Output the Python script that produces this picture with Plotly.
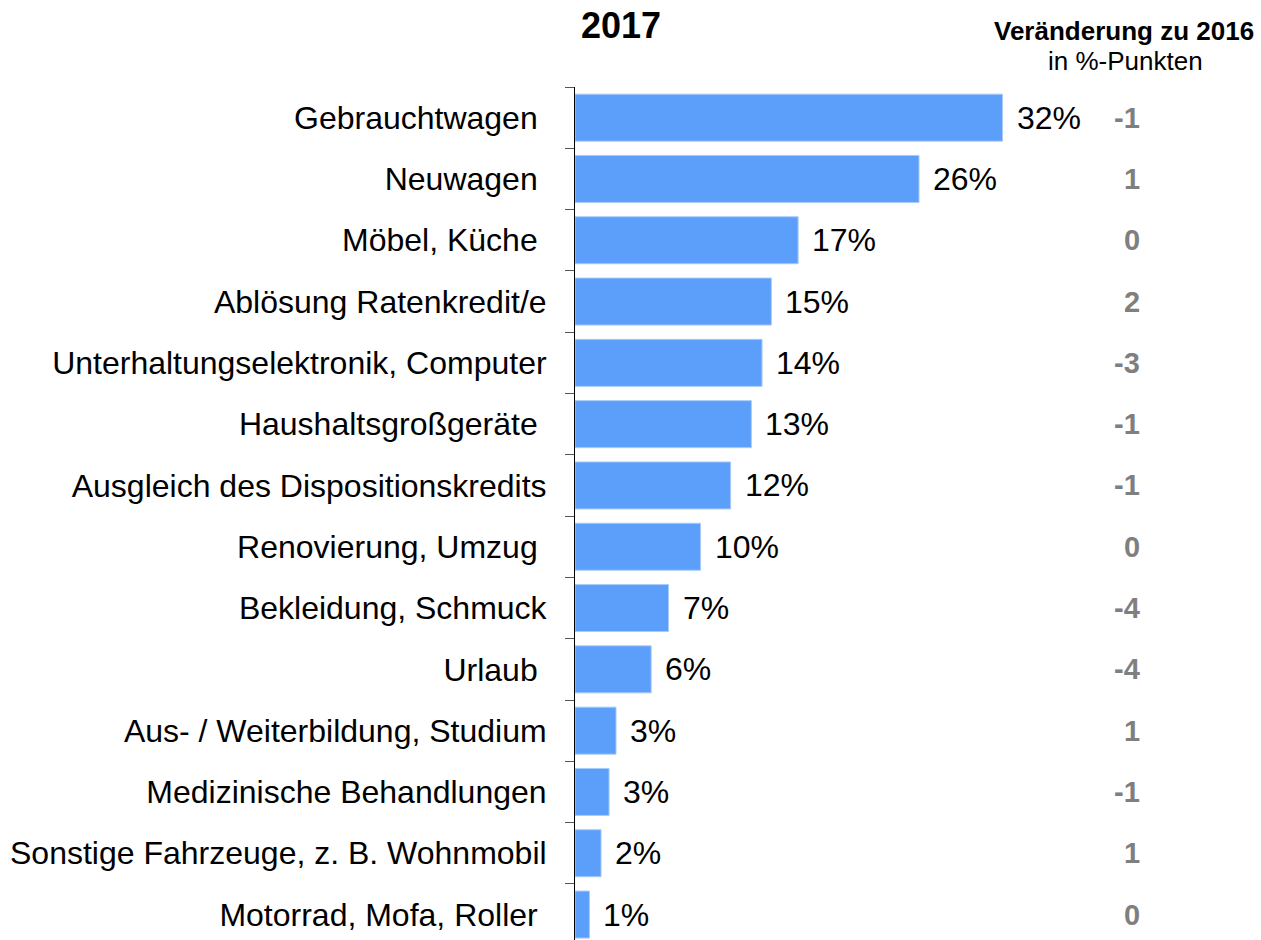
import plotly.graph_objects as go

categories = ["Gebrauchtwagen\u00a0", "Neuwagen\u00a0", "Möbel, Küche\u00a0", "Ablösung Ratenkredit/e",
              "Unterhaltungselektronik, Computer", "Haushaltsgroßgeräte\u00a0",
              "Ausgleich des Dispositionskredits", "Renovierung, Umzug\u00a0", "Bekleidung, Schmuck",
              "Urlaub\u00a0", "Aus- / Weiterbildung, Studium", "Medizinische Behandlungen",
              "Sonstige Fahrzeuge, z. B. Wohnmobil", "Motorrad, Mofa, Roller\u00a0"]
values = [32.0, 25.75, 16.7, 14.7, 14.0, 13.2, 11.65, 9.4, 7.0, 5.7, 3.07, 2.55, 1.95, 1.08]
value_labels = ["32%", "26%", "17%", "15%", "14%", "13%", "12%", "10%", "7%", "6%", "3%", "3%", "2%", "1%"]
changes = ["-1", "1", "0", "2", "-3", "-1", "-1", "0", "-4", "-4", "1", "-1", "1", "0"]

FONT = "Liberation Sans, Arial, sans-serif"
W, H = 1261, 940
ML, MT = 575, 87
PW, PH = W - ML, H - MT
ROW = 61.3
PXPERPCT = 13.36

fig = go.Figure(go.Bar(
    x=values, y=categories, orientation="h", width=0.767,
    marker=dict(color="#5B9FFA", line=dict(color="#A9CBFB", width=1)),
    hoverinfo="skip",
))

annotations = []
for c, v, lab, ch in zip(categories, values, value_labels, changes):
    annotations.append(dict(x=v, y=c, xref="x", yref="y", text=lab, showarrow=False,
                            xanchor="left", xshift=12, font=dict(family=FONT, size=32, color="black")))
    annotations.append(dict(x=(1142 - ML) / PW, y=c, xref="paper", yref="y", text=ch, showarrow=False,
                            xanchor="right", font=dict(family=FONT, size=29, color="#7F7F7F", weight="bold")))

annotations.append(dict(x=(1124 - ML) / PW, y=(H - 31) / PH, xref="paper", yref="paper",
                        text="<b>Veränderung zu 2016</b>", showarrow=False, xanchor="center", yanchor="middle",
                        font=dict(family=FONT, size=26, color="black")))
annotations.append(dict(x=(1125 - ML) / PW, y=(H - 61) / PH, xref="paper", yref="paper",
                        text="in %-Punkten", showarrow=False, xanchor="center", yanchor="middle",
                        font=dict(family=FONT, size=26, color="black")))

fig.update_layout(
    width=W, height=H,
    margin=dict(l=ML, r=0, t=MT, b=0, pad=0),
    plot_bgcolor="white", paper_bgcolor="white",
    showlegend=False,
    title=dict(text="<b>2017</b>", x=621 / W, xanchor="center", y=1 - 25 / H, yanchor="middle",
               font=dict(family=FONT, size=36, color="black")),
    xaxis=dict(range=[0, PW / PXPERPCT], visible=False, fixedrange=True),
    yaxis=dict(range=[-0.5 + PH / ROW, -0.5], showline=True, linecolor="black", linewidth=1,
               ticks="outside", tickson="boundaries", ticklen=9, tickcolor="#555555", tickwidth=1,
               showgrid=False, tickfont=dict(family=FONT, size=32, color="black"),
               ticklabelstandoff=21, fixedrange=True),
    annotations=annotations,
)

fig.write_html("out.html", config={"displayModeBar": False},
               post_script="document.body.style.margin='0';document.body.style.overflow='hidden';")
